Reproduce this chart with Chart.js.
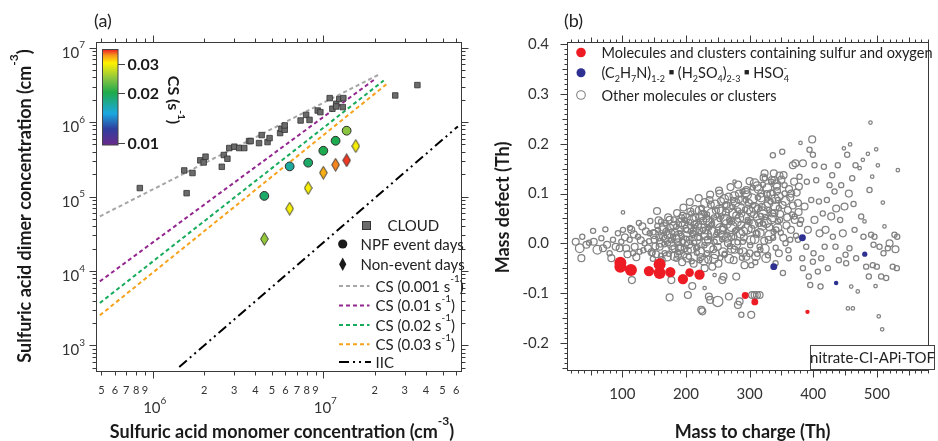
<!DOCTYPE html>
<html>
<head>
<meta charset="utf-8">
<script src="https://cdn.jsdelivr.net/npm/chart.js@4.4.1/dist/chart.umd.min.js"></script>
<style>
  html, body { margin: 0; padding: 0; background: #fff; }
  #wrap { position: relative; width: 938px; height: 441px; }
  canvas { position: absolute; top: 0; }
  #grafA { left: 0; }
  #grafB { left: 469px; }
</style>
</head>
<body>
<div id="wrap">
  <canvas id="grafA" width="469" height="441"></canvas>
  <canvas id="grafB" width="469" height="441"></canvas>
</div>
<script>
// ---------- (a) dimer vs monomer ----------
const cloudMonomer = [8.4e5, 1.53e6, 1.58e6, 1.71e6, 1.90e6, 1.99e6, 2.04e6, 2.54e6, 2.61e6, 2.74e6, 2.81e6, 3.01e6, 3.21e6, 3.44e6, 3.67e6, 3.75e6, 4.20e6, 4.35e6, 4.71e6, 4.84e6, 5.58e6, 5.68e6, 5.94e6, 5.94e6, 7.36e6, 7.93e6, 8.30e6, 9.27e6, 9.61e6, 1.09e7, 1.13e7, 1.19e7, 1.19e7, 1.24e7, 1.30e7, 1.31e7, 2.64e7, 3.56e7];
const cloudDimer = [1.30e5, 2.24e5, 1.11e5, 2.07e5, 3.06e5, 2.87e5, 3.43e5, 2.51e5, 3.61e5, 3.22e5, 4.48e5, 4.67e5, 4.48e5, 4.48e5, 5.56e5, 5.56e5, 5.22e5, 6.69e5, 5.39e5, 6.09e5, 7.12e5, 8.15e5, 7.89e5, 9.02e5, 1.05e6, 1.25e6, 1.07e6, 1.43e6, 1.36e6, 2.10e6, 1.51e6, 1.76e6, 1.62e6, 2.04e6, 1.59e6, 2.10e6, 2.28e6, 3.14e6];

const npfMonomer = [4.51e6, 6.35e6, 8.15e6, 1.0e7, 1.18e7, 1.37e7];
const npfDimer = [1.02e5, 2.54e5, 2.85e5, 4.12e5, 5.61e5, 7.66e5];
const npfCS = [0.019, 0.0171, 0.019, 0.020, 0.020, 0.0245];

const nonMonomer = [4.51e6, 6.35e6, 8.15e6, 1.0e7, 1.18e7, 1.37e7, 1.55e7];
const nonDimer = [2.69e4, 6.87e4, 1.30e5, 2.09e5, 2.67e5, 3.06e5, 4.76e5];
const nonCS = [0.025, 0.030, 0.030, 0.0329, 0.0342, 0.036, 0.030];

// steady-state curves for fixed condensation sink, and ion-induced limit
const csLineLabels = ['0.001', '0.01', '0.02', '0.03'];
const csLineMonomer = [[4.9e5, 2.16e7], [4.9e5, 2.02e7], [4.9e5, 2.26e7], [4.9e5, 2.34e7]];
const csLineDimer = [[5.42e4, 4.45e6], [7.26e3, 3.82e6], [3.72e3, 3.62e6], [2.54e3, 3.21e6]];
const csLineColors = ['#a6a6a6', '#93278f', '#17ab5b', '#f7a21b'];
const iicMonomer = [1.43e6, 6.15e7];
const iicDimer = [514, 8.75e5];

const xMajorA = [1e6, 1e7];
const xMinorA = [5e5, 6e5, 7e5, 8e5, 9e5, 2e6, 3e6, 4e6, 5e6, 6e6, 7e6, 8e6, 9e6, 2e7, 3e7, 4e7, 5e7, 6e7];
const yMajorA = [1e3, 1e4, 1e5, 1e6, 1e7];
const cbTicks = [0.01, 0.02, 0.03];

// ---------- (b) mass defect ----------
// [m/z, mass defect, signal class]
const sulfurPts = [[96.9,-0.039,6],[96.9,-0.047,6],[113.5,-0.054,6],[141.8,-0.056,5],[158.6,-0.042,6],[158.6,-0.060,6],[175.4,-0.058,5],[195.2,-0.072,5],[205.7,-0.059,4],[221.3,-0.063,5],[293.1,-0.105,3],[308.2,-0.118,3],[391,-0.138,1.5]];
const aminePts = [[338,-0.047,3],[383,0.011,3],[436,-0.080,1.6],[481,-0.022,2]];
const otherPts = [
  [26.7,0.003,3],[33,-0.010,4],[35.6,-0.030,3],[37,0.013,2],[43.5,-0.003,3],[47.6,0.001,2],[54,0.025,2],[55,0.003,3],[60.7,-0.013,4],[67,0.010,2],
  [69.6,-0.010,3],[73.3,0.028,2],[76,-0.003,3],[80,-0.020,2],[82.7,-0.030,3],[85.3,0.007,2],[89.5,-0.007,3],[93,0.020,2],[95.8,-0.010,3],[98.4,0.003,2],
  [101,0.062,1],[101,0.027,2],[106,-0.010,3],[111.5,0.007,2],[114,0.027,3],[115,-0.074,3],[116.8,-0.020,2],[119.4,-0.007,3],[124.6,0.013,2],[127,-0.017,2],
  [131.4,0.034,3],[135,0.000,2],[140.3,-0.010,3],[143,0.020,2],[147,-0.020,2],[150.8,0.007,3],[154.5,0.065,3],[156,0.027,2],[158.6,-0.007,3],[161,0.044,2],
  [164,0.013,3],[166.5,-0.020,2],[169,0.023,3],[171.7,0.000,2],[174.3,0.047,3],[174.3,-0.109,3],[177,-0.074,3],[179.6,0.013,2],[182,-0.010,3],[184.8,0.034,2],
  [187.4,-0.023,3],[190,0.020,2],[192.7,0.050,3],[195.3,0.003,2],[197.9,-0.010,3],[200.5,0.027,2],[203,-0.104,3],[204.7,-0.027,2],[205.8,0.007,3],[208.4,0.060,2],
  [209.9,-0.086,3],[211,0.020,2],[213.6,0.037,3],[216.2,-0.010,2],[218.8,0.013,3],[221.5,0.066,4],[221.5,-0.034,2],[224,-0.134,3],[225.7,-0.137,3],[226.7,0.027,2],
  [229.3,-0.050,3],[229.3,-0.090,1],[232,0.050,3],[233,-0.020,2],[234.6,0.007,3],[236,-0.107,3],[237,0.087,3],[238,-0.114,3],[239.8,0.037,2],[241.4,-0.047,3],
  [245,-0.064,1],[247.6,0.017,2],[250,-0.117,5],[250,-0.007,3],[252.9,0.100,3],[255.5,0.054,2],[257,-0.074,3],[258,0.027,3],[259,-0.067,3],[260.7,-0.023,2],
  [263.4,0.077,3],[266,0.000,3],[267.5,-0.107,3],[268.6,0.044,2],[271.2,0.013,3],[273.8,0.087,2],[276.4,0.124,1],[276.4,-0.013,3],[279,-0.067,3],[279,0.027,2],
  [281.7,-0.124,3],[283.2,0.100,3],[284.3,-0.117,3],[287,-0.144,2],[287,0.060,3],[289.5,0.003,2],[292,-0.044,3],[294.8,0.107,3],[297.4,0.044,2],[300,-0.020,3],
  [302.6,-0.144,3],[302.6,-0.044,2],[304,-0.104,3],[307.9,0.121,4],[307.9,-0.104,3],[310.5,0.020,2],[311.5,-0.104,3],[313,0.070,3],[315.7,-0.104,3],[315.7,-0.007,2],
  [318.3,0.100,3],[320.9,0.040,2],[323.6,0.141,3],[326,-0.030,4],[327.7,0.090,2],[330,0.007,3],[334,0.124,2],[335.6,0.060,3],[336.6,0.177,2],[337.7,0.023,2],
  [339,0.127,3],[340.8,-0.040,2],[343,0.114,3],[344.5,0.087,2],[346,-0.020,3],[348,0.047,2],[351.3,0.184,2],[352.4,-0.060,2],[353.4,0.137,3],[355,0.100,2],
  [356.5,0.000,2],[360.2,0.067,3],[361.8,-0.030,2],[363.9,0.007,2],[365.4,0.100,3],[368,0.157,3],[370.7,0.054,2],[372,0.161,3],[376,0.007,2],[377.5,0.114,3],
  [378.5,0.134,2],[380,0.202,1],[381,0.047,2],[382.7,-0.030,2],[383.8,0.161,3],[383.8,-0.050,2],[386.4,0.074,3],[389,-0.007,2],[390,0.124,2],[391.6,0.027,3],
  [393,-0.067,2],[394.2,0.188,2],[395.3,-0.084,2],[396.9,0.087,2],[398.4,0.209,3],[399.5,0.178,2],[399.5,-0.037,2],[400.5,-0.020,2],[402,0.047,3],[402,0.157,2],
  [404.7,0.127,2],[407.3,-0.057,2],[409,0.084,2],[410,0.020,3],[411.5,-0.087,2],[412.6,-0.030,2],[415,0.060,2],[416.8,0.154,2],[418,-0.007,2],[419.4,0.027,3],
  [421.5,0.087,2],[423,-0.050,2],[425.6,0.117,2],[428.3,0.054,3],[429.8,0.137,2],[430.9,0.013,2],[433.5,0.104,2],[435,-0.007,2],[436.1,0.070,3],[438.7,0.157,2],
  [440.3,-0.034,2],[442.4,0.047,2],[444,0.117,2],[446.6,0.020,3],[448.2,0.191,1],[449.2,0.074,3],[450.8,-0.023,2],[451.8,-0.040,2],[453.4,0.178,2],[454.5,-0.131,1],
  [456,0.100,3],[457,-0.010,2],[458,0.199,1],[459.7,-0.087,1],[461.3,0.131,2],[462.3,-0.131,1],[463.4,0.079,2],[465,0.027,2],[466.5,0.157,2],[467.5,-0.030,2],
  [470,-0.097,1],[473,0.151,1],[475.4,0.054,2],[478,0.168,1],[479,0.013,2],[480.6,0.044,1],[483.2,-0.047,2],[485.9,0.180,1],[487.4,-0.067,2],[488.5,0.107,2],
  [490,0.243,1],[491,0.017,2],[492.7,0.134,1],[493.7,-0.044,2],[494.8,-0.003,2],[496.3,0.013,2],[498,-0.086,1],[499,0.189,1],[500,-0.047,2],[501.6,0.157,1],
  [503,-0.147,1],[504.2,-0.007,2],[506.8,-0.067,2],[508.4,-0.173,1],[509.4,0.082,1],[510.5,-0.020,2],[512,0.034,1],[514.7,-0.070,2],[517.3,-0.010,2],[520,0.000,3],
  [525,-0.047,2],[527.7,0.017,2],[529.3,-0.012,3],[531.4,-0.050,2],[533,0.147,1],[532,0.013,2],
  // main band
  [142,0.004,2],[146,-0.018,3],[149,0.022,2],[152,-0.006,3],[155,0.035,2],[158,0.012,3],[161,-0.025,2],[163,0.028,3],[166,-0.002,2],[168,0.041,2],
  [171,0.016,3],[173,-0.021,2],[175,0.031,3],[177,0.006,2],[179,-0.012,3],[181,0.048,2],[183,0.021,3],[185,-0.031,2],[187,0.002,3],[189,0.038,2],
  [191,-0.008,3],[193,0.015,2],[195,0.055,3],[197,-0.024,2],[199,0.029,3],[201,0.009,2],[203,-0.015,3],[205,0.043,2],[207,0.064,3],[209,-0.036,2],
  [211,0.019,3],[213,0.001,2],[215,0.052,3],[217,-0.019,2],[219,0.034,3],[221,0.011,2],[223,-0.028,3],[225,0.071,2],[227,0.045,3],[229,-0.004,2],
  [231,0.026,3],[233,0.058,2],[235,-0.033,3],[237,0.014,2],[239,0.078,3],[241,0.039,2],[243,-0.012,3],[245,0.003,2],[247,0.066,3],[249,0.022,2],
  [251,-0.041,3],[253,0.049,2],[255,0.085,3],[257,0.008,2],[259,0.031,3],[261,-0.021,2],[263,0.062,3],[265,0.017,2],[267,0.094,3],[269,-0.006,2],
  [271,0.044,3],[273,0.073,2],[275,-0.034,3],[277,0.025,2],[279,0.056,3],[281,0.002,2],[283,0.088,3],[285,-0.016,2],[287,0.037,3],[289,0.104,2],
  [291,0.012,3],[293,0.068,2],[295,-0.027,3],[297,0.047,2],[299,0.081,3],[301,-0.004,2],[303,0.029,3],[305,0.112,2],[307,0.058,3],[309,-0.038,2],
  [311,0.019,3],[313,0.092,2],[315,0.041,3],[317,-0.013,2],[319,0.073,3],[321,0.118,2],[323,0.005,3],[325,0.053,2],[327,0.099,3],[329,-0.024,2],
  [331,0.032,3],[333,0.084,2],[335,0.127,3],[337,0.011,2],[339,0.061,3],[341,-0.009,2],[343,0.105,3],[345,0.044,2],[347,0.136,3],[349,0.021,2],
  [352,0.077,3],[355,0.117,2],[358,0.036,3],[361,-0.014,2],[364,0.092,3],[367,0.058,2],[370,0.124,3],[373,0.015,2],[376,0.081,3],[379,0.039,2],
  [184,0.009,4],[196,0.037,4],[204,-0.002,4],[214,0.027,4],[222,0.052,4],[232,0.004,4],[238,0.041,4],[246,-0.022,4],[252,0.068,4],[258,0.016,4],
  [264,0.039,4],[272,-0.011,4],[278,0.082,4],[284,0.051,4],[290,0.024,4],[296,0.097,4],[302,0.063,4],[308,0.008,4],[314,0.109,4],[320,0.035,4],
  [326,0.074,4],[334,0.048,4],[340,0.089,4],
  [188,-0.018,2],[198,0.047,2],[208,0.025,2],[218,-0.008,2],[228,0.061,2],[236,0.031,2],[244,0.052,2],[254,-0.029,2],[262,0.077,2],[268,0.048,2],
  [276,0.012,2],[282,0.066,2],[288,-0.029,2],[294,0.087,2],[300,0.043,2],[306,0.077,2],[312,-0.021,2],[318,0.055,2],[324,0.131,2],[330,0.067,2],
  [336,0.101,2],[342,0.028,2],[346,0.071,2],
  [150,0.018,4],[153,-0.022,3],[157,0.046,3],[160,0.001,4],[162,-0.034,3],[165,0.033,4],[167,0.009,3],[170,-0.027,4],[172,0.052,3],[176,0.019,4],
  [178,-0.004,4],[180,0.036,3],[182,-0.026,4],[186,0.061,3],[188,0.014,5],[190,-0.013,4],[192,0.042,4],[194,-0.038,3],[196,0.072,3],[198,0.004,5],
  [200,0.051,4],[202,-0.029,4],[204,0.031,5],[206,0.083,3],[208,-0.011,4],[210,0.046,5],[212,-0.041,3],[214,0.067,4],[216,0.008,5],[218,0.039,4],
  [220,0.091,3],[222,-0.017,4],[224,0.029,5],[226,0.056,4],[228,-0.035,4],[230,0.081,4],[232,0.017,5],[234,0.046,4],[236,-0.009,5],[238,0.098,3],
  [240,0.061,4],[242,0.021,5],[244,-0.031,4],[246,0.078,4],[248,0.042,5],[250,0.006,4],[252,0.106,3],[254,0.029,5],[256,0.064,4],[258,-0.018,4],
  [260,0.089,4],[262,0.048,5],[264,0.011,4],[266,0.072,5],[268,-0.031,4],[270,0.113,3],[272,0.034,5],[274,0.061,4],[276,0.095,4],[278,-0.002,5],
  [280,0.043,4],[282,0.118,3],[284,0.071,5],[286,0.019,4],[288,0.086,4],[290,-0.018,4],[292,0.052,5],[294,0.102,4],[296,0.029,5],[298,0.068,4],
  [300,0.125,3],[302,0.006,4],[304,0.089,5],[306,0.039,4],[308,0.071,5],[310,-0.026,4],[312,0.115,4],[314,0.051,5],[316,0.021,4],[318,0.092,4],
  [320,0.063,5],[322,0.132,3],[324,-0.011,4],[326,0.042,5],[328,0.111,4],[330,0.081,4],[332,0.016,5],[334,0.099,4],[336,0.052,4],[338,0.141,3],
  [340,0.074,4],[342,0.119,4],[344,0.031,4],[346,0.094,4],[348,0.059,3],[350,0.128,3],[353,0.011,3],[356,0.085,4],[359,0.052,3],[362,0.109,3],
  [365,0.027,3],[368,0.076,3],[371,0.047,3],[374,0.102,3],[377,0.063,3],
  [104,0.012,3],[108,-0.022,3],[112,0.031,2],[118,0.018,3],[122,-0.028,3],[126,0.041,2],[129,0.006,3],[133,-0.014,2],[137,0.024,3],[144,0.045,2],[148,-0.031,2]
];
const xTicksB = [100, 200, 300, 400, 500];
const yTicksB = [-0.2, -0.1, 0, 0.1, 0.2, 0.3, 0.4];

// ---------- helpers ----------
const FAMILIA = 'Lato, "Open Sans", sans-serif';
const fonte = (tam, negrito) => (negrito ? 'bold ' : '') + tam + 'px ' + FAMILIA;

// colour bar: log scale of CS between its two ends
const cbMin = 0.0097, cbMax = 0.0367;
const cbStops = [[0, '#6a2a8c'], [0.17, '#2e3f9e'], [0.33, '#1ba8e0'], [0.55, '#1eaa4a'], [0.7, '#8cc63f'], [0.86, '#fff200'], [0.94, '#f7941d'], [1, '#ed1c24']];

function hexRgb(h) { return [1, 3, 5].map(i => parseInt(h.substr(i, 2), 16)); }
function corCS(cs) {
  const t = Math.min(1, Math.max(0, Math.log(cs / cbMin) / Math.log(cbMax / cbMin)));
  for (let i = 1; i < cbStops.length; i++) {
    if (t <= cbStops[i][0]) {
      const f = (t - cbStops[i - 1][0]) / (cbStops[i][0] - cbStops[i - 1][0]);
      const a = hexRgb(cbStops[i - 1][1]), b = hexRgb(cbStops[i][1]);
      return 'rgb(' + a.map((c, k) => Math.round(c + (b[k] - c) * f)).join(',') + ')';
    }
  }
  return cbStops[cbStops.length - 1][1];
}

// tall diamond marker
function losango(cor) {
  const c = document.createElement('canvas');
  c.width = 9; c.height = 14;
  const g = c.getContext('2d');
  g.beginPath();
  g.moveTo(4.5, 0.6); g.lineTo(8.3, 7); g.lineTo(4.5, 13.4); g.lineTo(0.7, 7); g.closePath();
  g.fillStyle = cor; g.fill();
  g.strokeStyle = '#2b2b2b'; g.lineWidth = 0.9; g.stroke();
  return c;
}

// text with raised / lowered pieces; {over:true} stacks on the previous piece
function textoRico(ctx, partes, x, y, tam, negrito, alinh, cor) {
  const itens = partes.map(p => typeof p === 'string' ? { t: p } : p);
  let largura = 0;
  const med = itens.map(p => {
    const t = (p.sup || p.sub || p.mini) ? Math.round(tam * 0.64) : tam;
    ctx.font = fonte(t, negrito || p.negrito);
    const w = ctx.measureText(p.t).width;
    if (!p.over) largura += w;
    return { t, w };
  });
  let cx = alinh === 'center' ? x - largura / 2 : (alinh === 'right' ? x - largura : x);
  let ultimo = cx;
  ctx.textAlign = 'left';
  ctx.textBaseline = 'alphabetic';
  ctx.fillStyle = cor || '#222';
  itens.forEach((p, i) => {
    ctx.font = fonte(med[i].t, negrito || p.negrito);
    let dy = 0;
    if (p.sup) dy = -tam * (p.alto || 0.55);
    if (p.sub) dy = tam * 0.25;
    if (p.mini) dy = -tam * 0.18;
    ctx.fillText(p.t, p.over ? ultimo : cx, y + dy);
    if (!p.over) { ultimo = cx; cx += med[i].w; }
  });
}

function linhaMarcas(ctx, pontos) {
  ctx.beginPath();
  pontos.forEach(([x0, y0, x1, y1]) => { ctx.moveTo(x0, y0); ctx.lineTo(x1, y1); });
  ctx.stroke();
}

// ---------- plugin for panel (a) ----------
const painelA = {
  id: 'painelA',
  afterDraw(chart) {
    const { ctx, chartArea: a, scales: { x, y } } = chart;
    const L = Math.round(a.left) + 0.5, R = Math.round(a.right) - 0.5;
    const T = Math.round(a.top) + 0.5, B = Math.round(a.bottom) - 0.5;
    ctx.save();
    ctx.strokeStyle = '#3a3a3a';
    ctx.lineWidth = 1;
    ctx.strokeRect(L, T, R - L, B - T);

    // ticks on all four sides
    const seg = [];
    xMinorA.concat(xMajorA).forEach(v => {
      const px = Math.round(x.getPixelForValue(v)) + 0.5;
      const n = xMajorA.includes(v) ? 7 : 4;
      seg.push([px, B, px, B + n], [px, T, px, T - n]);
    });
    const yTodos = [];
    for (let e = 2; e <= 7; e++) for (let m = 1; m <= 9; m++) {
      const v = m * Math.pow(10, e);
      if (v >= y.min && v <= y.max) yTodos.push(v);
    }
    yTodos.forEach(v => {
      const py = Math.round(y.getPixelForValue(v)) + 0.5;
      const n = yMajorA.includes(v) ? 7 : 4;
      seg.push([L, py, L - n, py], [R, py, R + n, py]);
    });
    linhaMarcas(ctx, seg);

    // tick labels
    ctx.fillStyle = '#333';
    ctx.font = fonte(11, false);
    ctx.textAlign = 'center';
    ctx.textBaseline = 'middle';
    xMinorA.forEach(v => {
      const d = String(Math.round(v / Math.pow(10, Math.floor(Math.log10(v) + 1e-9))));
      ctx.fillText(d, x.getPixelForValue(v), 390);
    });
    xMajorA.forEach(v => {
      textoRico(ctx, ['10', { t: String(Math.round(Math.log10(v))), sup: true, alto: 0.62 }], x.getPixelForValue(v) + 2, 413, 15, false, 'center', '#333');
    });
    yMajorA.forEach(v => {
      textoRico(ctx, ['10', { t: String(Math.round(Math.log10(v))), sup: true, alto: 0.62 }], 85, y.getPixelForValue(v) + 10, 15, false, 'right', '#333');
    });

    // axis titles
    textoRico(ctx, ['Sulfuric acid monomer concentration (cm', { t: '-3', sup: true, alto: 0.75 }, ')'], 282, 438, 18, true, 'center', '#1a1a1a');
    ctx.save();
    ctx.translate(31, 206);
    ctx.rotate(-Math.PI / 2);
    textoRico(ctx, ['Sulfuric acid dimer concentration (cm', { t: '-3', sup: true, alto: 0.75 }, ')'], 0, 0, 18, true, 'center', '#1a1a1a');
    ctx.restore();

    ctx.font = fonte(18, false);
    ctx.fillStyle = '#222';
    ctx.textAlign = 'left';
    ctx.textBaseline = 'middle';
    ctx.fillText('(a)', 94, 21);

    // colour bar
    const cbL = 102.5, cbR = 118, cbT = 49.5, cbB = 145;
    const grad = ctx.createLinearGradient(0, cbB, 0, cbT);
    cbStops.forEach(([t, c]) => grad.addColorStop(t, c));
    ctx.fillStyle = grad;
    ctx.fillRect(cbL, cbT, cbR - cbL, cbB - cbT);
    ctx.strokeStyle = '#444';
    ctx.strokeRect(cbL, cbT, cbR - cbL, cbB - cbT);
    const cbPix = v => cbB - (cbB - cbT) * Math.log(v / cbMin) / Math.log(cbMax / cbMin);
    linhaMarcas(ctx, cbTicks.map(v => [cbR, Math.round(cbPix(v)) + 0.5, cbR + 7, Math.round(cbPix(v)) + 0.5]));
    ctx.font = fonte(16, true);
    ctx.fillStyle = '#1a1a1a';
    ctx.textBaseline = 'middle';
    cbTicks.forEach(v => ctx.fillText(v.toFixed(2), 127.5, cbPix(v) + 1));
    ctx.save();
    ctx.translate(168, 100);
    ctx.rotate(Math.PI / 2);
    textoRico(ctx, ['CS (s', { t: '-1', sup: true, alto: 0.6 }, ')'], 0, 0, 16, true, 'center', '#1a1a1a');
    ctx.restore();

    // legend
    const txt = 15;
    ctx.fillStyle = '#6b6b6b';
    ctx.strokeStyle = '#333';
    ctx.fillRect(362.5, 221.5, 8, 8);
    ctx.strokeRect(362.5, 221.5, 8, 8);
    ctx.fillStyle = '#1a1a1a';
    ctx.beginPath(); ctx.arc(342.7, 244, 4.6, 0, Math.PI * 2); ctx.fill();
    ctx.beginPath();
    ctx.moveTo(342.7, 257.5); ctx.lineTo(346.3, 264.3); ctx.lineTo(342.7, 271); ctx.lineTo(339.1, 264.3); ctx.closePath(); ctx.fill();
    textoRico(ctx, ['CLOUD'], 387.5, 231, txt, false, 'left', '#222');
    textoRico(ctx, ['NPF event days'], 360.5, 249.5, txt, false, 'left', '#222');
    textoRico(ctx, ['Non-event days'], 360.5, 269.5, txt, false, 'left', '#222');
    const ly = [286, 305.5, 325, 344.3];
    csLineLabels.forEach((lab, i) => {
      ctx.strokeStyle = csLineColors[i];
      ctx.lineWidth = 2;
      ctx.setLineDash([4, 3]);
      linhaMarcas(ctx, [[339, ly[i], 369.5, ly[i]]]);
      textoRico(ctx, ['CS (' + lab + ' s', { t: '-1', sup: true, alto: 0.62 }, ')'], 375.5, ly[i] + 5.5, txt, false, 'left', '#222');
    });
    ctx.strokeStyle = '#000';
    ctx.setLineDash([10, 4, 2, 4, 2, 4]);
    linhaMarcas(ctx, [[339, 362, 371, 362]]);
    ctx.setLineDash([]);
    textoRico(ctx, ['IIC'], 375.5, 367.5, txt, false, 'left', '#222');
    ctx.restore();
  }
};

const ptsA = (xs, ys) => xs.map((v, i) => ({ x: v, y: ys[i] }));

new Chart(document.getElementById('grafA'), {
  type: 'scatter',
  data: {
    datasets: [
      { label: 'NPF event days', data: ptsA(npfMonomer, npfDimer), pointRadius: 4.4,
        pointBackgroundColor: npfCS.map(corCS), pointBorderColor: '#2b2b2b', pointBorderWidth: 1 },
      { label: 'Non-event days', data: ptsA(nonMonomer, nonDimer), pointRadius: 6,
        pointStyle: nonCS.map(cs => losango(corCS(cs))) },
      { label: 'CLOUD', data: ptsA(cloudMonomer, cloudDimer), pointStyle: 'rect', pointRadius: 3.9,
        pointBackgroundColor: '#6b6b6b', pointBorderColor: '#333', pointBorderWidth: 0.8 },
      ...csLineLabels.map((lab, i) => ({
        label: 'CS (' + lab + ')', data: ptsA(csLineMonomer[i], csLineDimer[i]), showLine: true,
        pointRadius: 0, borderColor: csLineColors[i], borderWidth: 2, borderDash: [4, 3]
      })),
      { label: 'IIC', data: ptsA(iicMonomer, iicDimer), showLine: true, pointRadius: 0,
        borderColor: '#000', borderWidth: 2, borderDash: [10, 4, 2, 4, 2, 4] }
    ]
  },
  options: {
    responsive: false,
    animation: false,
    events: [],
    layout: { padding: { top: 42, right: 3, left: 0, bottom: 0 } },
    plugins: { legend: { display: false }, tooltip: { enabled: false } },
    scales: {
      x: { type: 'logarithmic', min: 4.65e5, max: 6.5e7, grid: { display: false }, border: { display: false },
           ticks: { display: false }, afterFit: s => { s.height = 69; } },
      y: { type: 'logarithmic', min: 440, max: 1.19e7, grid: { display: false }, border: { display: false },
           ticks: { display: false }, afterFit: s => { s.width = 96; } }
    }
  },
  plugins: [painelA]
});

// ---------- plugin for panel (b) ----------
const painelB = {
  id: 'painelB',
  afterDraw(chart) {
    const { ctx, chartArea: a, scales: { x, y } } = chart;
    const L = Math.round(a.left) + 0.5, R = Math.round(a.right) - 0.5;
    const T = Math.round(a.top) + 0.5, B = Math.round(a.bottom) - 0.5;
    ctx.save();
    ctx.strokeStyle = '#3a3a3a';
    ctx.lineWidth = 1;
    ctx.strokeRect(L, T, R - L, B - T);

    const seg = [];
    for (let v = 20; v <= 580; v += 10) {
      const px = Math.round(x.getPixelForValue(v)) + 0.5;
      const n = v % 100 === 0 ? 7 : (v % 50 === 0 ? 5 : 3);
      seg.push([px, B, px, B + n], [px, T, px, T - n]);
    }
    for (let k = -25; k <= 40; k++) {
      const py = Math.round(y.getPixelForValue(k / 100)) + 0.5;
      const n = k % 10 === 0 ? 7 : (k % 5 === 0 ? 5 : 3);
      seg.push([L, py, L - n, py]);
    }
    linhaMarcas(ctx, seg);

    // titles
    textoRico(ctx, ['Mass to charge (Th)'], 283.5, 438, 18, true, 'center', '#1a1a1a');
    ctx.save();
    ctx.translate(40, 207.5);
    ctx.rotate(-Math.PI / 2);
    textoRico(ctx, ['Mass defect (Th)'], 0, 0, 18, true, 'center', '#1a1a1a');
    ctx.restore();
    ctx.font = fonte(18, false);
    ctx.fillStyle = '#222';
    ctx.textAlign = 'left';
    ctx.textBaseline = 'middle';
    ctx.fillText('(b)', 95, 21);

    // legend
    const lx = 112, tx = 132.5, tam = 14.5;
    ctx.fillStyle = '#ed1c24';
    ctx.beginPath(); ctx.arc(lx, 52.5, 4.8, 0, Math.PI * 2); ctx.fill();
    ctx.fillStyle = '#2e3192';
    ctx.beginPath(); ctx.arc(lx, 72.7, 4.5, 0, Math.PI * 2); ctx.fill();
    ctx.strokeStyle = '#808080';
    ctx.lineWidth = 1.1;
    ctx.beginPath(); ctx.arc(lx, 95, 4.3, 0, Math.PI * 2); ctx.stroke();
    textoRico(ctx, ['Molecules and clusters containing sulfur and oxygen'], tx, 58, tam, false, 'left', '#222');
    textoRico(ctx, ['(C', { t: '2', sub: true }, 'H', { t: '7', sub: true }, 'N)', { t: '1-2', sub: true },
                    ' ', { t: '\u25a0', mini: true }, ' (H', { t: '2', sub: true }, 'SO', { t: '4', sub: true }, ')', { t: '2-3', sub: true },
                    ' ', { t: '\u25a0', mini: true }, ' HSO', { t: '4', sub: true }, { t: '-', sup: true, over: true, alto: 0.5 }], tx, 78, tam, false, 'left', '#222');
    textoRico(ctx, ['Other molecules or clusters'], tx, 100.5, tam, false, 'left', '#222');

    // instrument tag
    ctx.strokeStyle = '#444';
    ctx.lineWidth = 1;
    ctx.fillStyle = '#fff';
    ctx.fillRect(341.5, 345.5, 124, 24);
    ctx.strokeRect(341.5, 345.5, 124, 24);
    textoRico(ctx, ['nitrate-CI-APi-TOF'], 403.5, 363, 15, false, 'center', '#222');
    ctx.restore();
  }
};

const ptsB = arr => arr.map(p => ({ x: p[0], y: p[1], s: p[2] }));
const raio = c => 0.9 + 0.85 * c.raw.s;

new Chart(document.getElementById('grafB'), {
  type: 'scatter',
  data: {
    datasets: [
      { label: 'Molecules and clusters containing sulfur and oxygen', data: ptsB(sulfurPts),
        pointRadius: raio, pointBackgroundColor: '#ed1c24', pointBorderColor: '#ed1c24', pointBorderWidth: 0 },
      { label: 'amine-sulfuric acid clusters', data: ptsB(aminePts),
        pointRadius: raio, pointBackgroundColor: '#2e3192', pointBorderColor: '#2e3192', pointBorderWidth: 0 },
      { label: 'Other molecules or clusters', data: ptsB(otherPts),
        pointRadius: raio, pointBackgroundColor: 'rgba(0,0,0,0)', pointBorderColor: '#818181', pointBorderWidth: 1.25 }
    ]
  },
  options: {
    responsive: false,
    animation: false,
    events: [],
    layout: { padding: { top: 42, right: 9, left: 0, bottom: 0 } },
    plugins: { legend: { display: false }, tooltip: { enabled: false } },
    scales: {
      x: { type: 'linear', min: 13, max: 582, border: { display: false },
           grid: { display: true, drawOnChartArea: false, drawTicks: true, tickLength: 8, color: 'rgba(0,0,0,0)' },
           afterBuildTicks: s => { s.ticks = xTicksB.map(v => ({ value: v })); },
           ticks: { autoSkip: false, maxRotation: 0, padding: 6, color: '#333', font: { family: FAMILIA, size: 15 } },
           afterFit: s => { s.height = 70; } },
      y: { type: 'linear', min: -0.257, max: 0.405, border: { display: false },
           grid: { display: true, drawOnChartArea: false, drawTicks: true, tickLength: 8, color: 'rgba(0,0,0,0)' },
           afterBuildTicks: s => { s.ticks = yTicksB.map(v => ({ value: v })); },
           ticks: { autoSkip: false, padding: 10, color: '#333', font: { family: FAMILIA, size: 15 },
                    callback: v => v.toFixed(1) },
           afterFit: s => { s.width = 98; } }
    }
  },
  plugins: [painelB]
});
</script>
</body>
</html>
